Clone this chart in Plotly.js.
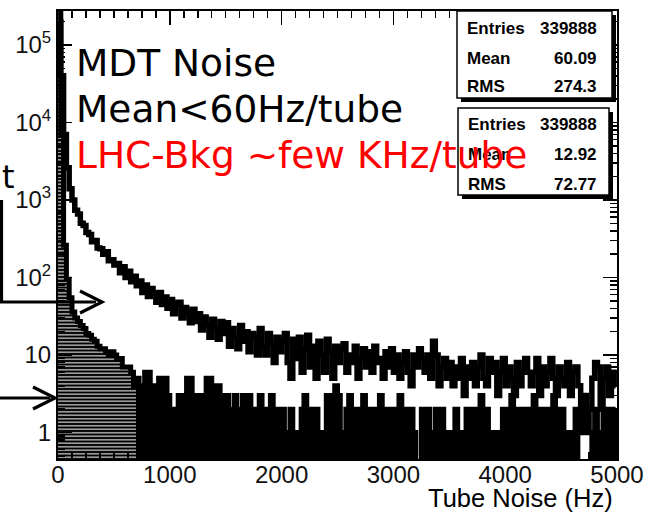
<!DOCTYPE html>
<html><head><meta charset="utf-8">
<script src="https://cdn.plot.ly/plotly-3.0.1.min.js"></script>
<style>html,body{margin:0;padding:0;background:#fff}#chart{width:646px;height:517px}</style>
</head><body><div id="chart"></div>
<script>
// ---------------- data ----------------
const binWidth = 25; // Hz per bin, 200 bins over 0..5000 Hz
const allNoise = [
 200000,40000,7000,2600,1400,1000,740,660,500,470,
 380,360,290,300,240,235,200,215,165,170,
 145,152,115,138,100,120,88,104,78,90,
 64,80,57,72,63,48,64,45,56,40,
 52,34,45,48,30,41,35,26,39,27,
 34,21,31,25,17,29,22,16,27,19,
 26,13,22,17,12,24,15,20,11,19,
 17,10,22,13,10,19,14,8,17,11,
 15,19,8,5,16,9,17,6,12,18,
 7,13,5,15,10,6,16,11,5,13,
 8,12,14,6,10,8,13,5,9,12,
 7,11,6,13,8,9,5,11,7,12,
 6,10,5,8,11,6,4,10,7,12,
 9,6,10,5,15,10,4,7,9,5,
 8,4,7,5,9,3,7,5,8,4,
 7,10,5,4,9,6,8,3,6,9,
 4,7,5,3,8,4,6,9,6,4,
 6,9,3,7,4,6,9,5,3,7,
 5,4,8,3,6,7,4,1,3,1,
 2,5,8,7,2,5,7,3,6,4
];
const onTrack = [
 300000,7000,260,95,55,36,30,27,24,22,
 19,18,16,15,13,12,12,11,10,11,
 10,9,9,7,7,7,6,4,5,4,
 4,6,6,4,4,4,5,5,5,3,
 2,2,2,3,3,2,5,5,3,3,
 3,3,3,5,5,4,4,4,2,3,
 3,2,2,3,2,2,3,1,3,2,
 2,1,3,2,1,2,3,2,1,2,
 2,1,1,2,1,1,1,2,3,2,
 2,2,2,1,1,1,3,1,3,4,
 3,1,0,2,3,2,1,2,1,3,
 2,1,2,1,2,3,1,2,1,2,
 2,1,3,1,2,1,2,1,0,0,
 2,1,2,1,0,2,1,2,1,1,
 1,1,2,1,1,1,2,0,2,1,
 2,3,1,2,1,1,1,1,0,2,
 1,2,3,1,2,1,2,2,1,2,
 3,1,2,1,2,2,1,3,2,1,
 2,1,1,1,1,2,0,0,0,0,
 0,1,2,1,0,2,1,2,1,2
];
const xTickVals = [0,1000,2000,3000,4000,5000];
const xTickText = ['0','1000','2000','3000','4000','5000'];
const yTickVals = [1,10,100,1000,10000,100000];
const yTickText = ['1','10','10<sup>2</sup>','10<sup>3</sup>','10<sup>4</sup>','10<sup>5</sup>'];
const statLabels = ['Entries','Mean','RMS'];
const stats1Values = ['339888','60.09','274.3'];
const stats2Values = ['339888','12.92','72.77'];
const noteLines = ['MDT Noise','Mean&lt;60Hz/tube','LHC-Bkg ~few KHz/tube'];
const xTitle = 'Tube Noise (Hz)';

// ---------------- layout geometry ----------------
const W = 646, H = 517, L = 58, R = 617, T = 11, B = 459;
const X0 = 0, X1 = 5000;
const yLogRange = [-0.342, 5.439];
const px = p => (p - L) / (R - L);
const py = p => (B - p) / (B - T);

const centers = allNoise.map((_, i) => (i + 0.5) * binWidth);
const floorVal = Math.pow(10, yLogRange[0]) / 3;
const lowerLine = onTrack.map(v => v > 0 ? v : floorVal);
const patternShapes = centers.map(c => c < 700 ? '-' : '');

const traces = [
  { type: 'bar', x: centers, y: onTrack, width: binWidth,
    marker: { color: 'black', line: { width: 0 },
      pattern: { shape: patternShapes, fillmode: 'replace', bgcolor: 'black', fgcolor: 'white', size: 3.5, solidity: 0.3 } },
    hoverinfo: 'skip', showlegend: false },
  { type: 'scatter', mode: 'lines', x: centers, y: lowerLine,
    line: { shape: 'hvh', color: 'black', width: 5 }, showlegend: false, hoverinfo: 'skip' },
  { type: 'scatter', mode: 'lines', x: centers, y: allNoise,
    line: { shape: 'hvh', color: 'black', width: 5.5 }, showlegend: false, hoverinfo: 'skip' }
];

// ---------------- shapes (stat boxes, arrows) ----------------
const shapes = [];
function rectPx(x0, y0, x1, y1, fill, lw) {
  shapes.push({ type: 'rect', xref: 'paper', yref: 'paper', layer: 'above',
    x0: px(x0), x1: px(x1), y0: py(y1), y1: py(y0),
    fillcolor: fill, line: { color: 'black', width: lw } });
}
function pathPx(pts, lw) {
  const d = pts.map((p, i) => (i ? 'L' : 'M') + px(p[0]).toFixed(5) + ',' + py(p[1]).toFixed(5)).join(' ');
  shapes.push({ type: 'path', xref: 'paper', yref: 'paper', layer: 'above', path: d,
    line: { color: 'black', width: lw } });
}
// stat box 1
rectPx(461, 15, 616, 102, 'black', 0);
rectPx(457, 11, 612, 98, 'white', 1.5);
// stat box 2
rectPx(462, 112, 613, 199, 'black', 0);
rectPx(458, 108, 609, 195, 'white', 1.5);
// bracket + arrow 1
pathPx([[1.5, 200], [1.5, 302], [96, 302]], 3.2);
pathPx([[80, 291], [102, 302], [80, 313]], 3.2);
// arrow 2
pathPx([[0, 398], [50, 398]], 3.2);
pathPx([[33, 387], [55, 398], [33, 409]], 3.2);

// ---------------- annotations ----------------
const ann = [];
function textPx(text, x, y, xanchor, size, color, family) {
  ann.push({ text: text, xref: 'paper', yref: 'paper', x: px(x), y: py(y),
    xanchor: xanchor, yanchor: 'middle', showarrow: false,
    font: { size: size, color: color, family: family } });
}
const helv = 'Liberation Sans';
const rows1 = [29, 59, 86], rows2 = [124, 154, 184];
statLabels.forEach((lab, i) => {
  textPx('<b>' + lab + '</b>', 465, rows1[i], 'left', 17, 'black', helv);
  textPx('<b>' + stats1Values[i] + '</b>', 599, rows1[i], 'right', 17, 'black', helv);
  textPx('<b>' + lab + '</b>', 466, rows2[i], 'left', 17, 'black', helv);
  textPx('<b>' + stats2Values[i] + '</b>', 599, rows2[i], 'right', 17, 'black', helv);
});
textPx('t', 0, 177, 'left', 32, 'black', 'DejaVu Sans');
textPx(xTitle, 615, 498, 'right', 25.5, 'black', helv);
const noteY = [63, 109, 155];
const noteColors = ['black', 'black', '#ff0000'];
noteLines.forEach((t, i) => textPx(t, 74, noteY[i], 'left', 37.5, noteColors[i], 'DejaVu Sans'));

const axisCommon = {
  showline: true, linecolor: 'black', linewidth: 2, mirror: 'allticks',
  ticks: 'inside', tickcolor: 'black', tickwidth: 1.5,
  showgrid: false, zeroline: false,
  tickfont: { family: helv, size: 24, color: '#111' }
};

const layout = {
  width: W, height: H,
  margin: { l: L, r: W - R, t: T, b: H - B, pad: 0 },
  paper_bgcolor: 'white', plot_bgcolor: 'white',
  bargap: 0, barmode: 'overlay', showlegend: false,
  xaxis: Object.assign({}, axisCommon, {
    range: [X0, X1], tickmode: 'array', tickvals: xTickVals, ticktext: xTickText, ticklen: 14,
    ticklabelstandoff: -7,
    minor: { dtick: 125, ticklen: 7, ticks: 'inside', tickcolor: 'black', tickwidth: 1.5 }
  }),
  yaxis: Object.assign({}, axisCommon, {
    type: 'log', range: yLogRange, tickmode: 'array', tickvals: yTickVals, ticktext: yTickText, ticklen: 14,
    minor: { dtick: 'D1', ticklen: 7, ticks: 'inside', tickcolor: 'black', tickwidth: 1.5 }
  }),
  shapes: shapes,
  annotations: ann
};

Plotly.newPlot('chart', traces, layout, { staticPlot: true, displayModeBar: false });
</script>
</body></html>
